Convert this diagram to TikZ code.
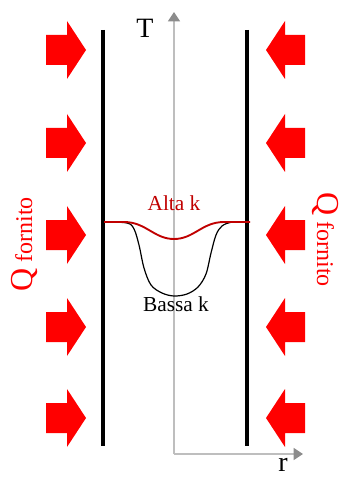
\documentclass[tikz,border=0pt]{standalone}
\usepackage{fontspec}
\setmainfont{Liberation Serif}
\usetikzlibrary{arrows.meta}
\definecolor{qred}{RGB}{255,0,0}
\definecolor{kred}{RGB}{192,0,0}
\definecolor{axisline}{RGB}{190,190,190}
\definecolor{axishead}{RGB}{140,140,140}
\begin{document}
\begin{tikzpicture}[x=0.75pt,y=-0.75pt,
  wall/.style={line width=2.4pt,black},
  axis/.style={line width=1.1pt,axisline,-{Triangle[length=7pt,width=9pt,fill=axishead,color=axishead]}},
  blockarrow/.style={fill=qred,draw=none},
  qlabel/.style={text=qred,inner sep=0pt,anchor=base west},
  klabel/.style={inner sep=0pt,font=\fontsize{16}{16}\selectfont}]
\useasboundingbox (0,0) rectangle (342,477);
% walls
\coordinate (lwt) at (103,30); \coordinate (lwb) at (103,446);
\coordinate (rwt) at (247,30); \coordinate (rwb) at (247,446);
\draw[wall] (lwt) -- (lwb);
\draw[wall] (rwt) -- (rwb);
% axes
\coordinate (o) at (174,454);
\coordinate (ty) at (174,12);
\coordinate (rx) at (303,454);
\draw[axis] (o) -- (ty);
\draw[axis] (o) -- (rx);
\node[inner sep=0pt,anchor=base,font=\fontsize{21}{21}\selectfont] (T) at (145,38) {T};
\node[inner sep=0pt,anchor=base,font=\fontsize{21}{21}\selectfont] (r) at (283,471) {r};
% red block arrows
\foreach \c in {50,143,235,327,418}{
  \fill[blockarrow] (46,\c-15) -- (67,\c-15) -- (67,\c-29) -- (86,\c) -- (67,\c+29) -- (67,\c+15) -- (46,\c+15) -- cycle;
  \fill[blockarrow] (305,\c-15) -- (285,\c-15) -- (285,\c-29) -- (266,\c) -- (285,\c+29) -- (285,\c+15) -- (305,\c+15) -- cycle;
}
% Q fornito labels
\node[qlabel,rotate=90] (ql) at (32,292) {\fontsize{24}{24}\selectfont Q\fontsize{18}{18}\selectfont\ fornito};
\node[qlabel,rotate=-90] (qr) at (317,192) {\fontsize{24}{24}\selectfont Q\fontsize{18}{18}\selectfont\ fornito};
% curves
\draw[black,line width=0.9pt] plot[smooth,tension=0.55] coordinates {(104,222) (127,223) (134,229) (139,245) (144,268) (151,285) (162,293) (174,296) (187,294) (198,287) (206,274) (211,253) (216,235) (222,226) (232,222) (246,222)};
\draw[kred,line width=1.4pt] (104,222) -- (124,222) .. controls (146,222) and (154,239) .. (174,239) .. controls (194,239) and (202,222) .. (224,222) -- (250,222);
\node[klabel,text=kred,anchor=base] (alta) at (174,210) {Alta k};
\node[klabel,text=black,anchor=base] (bassa) at (176,311) {Bassa k};
\end{tikzpicture}
\end{document}
